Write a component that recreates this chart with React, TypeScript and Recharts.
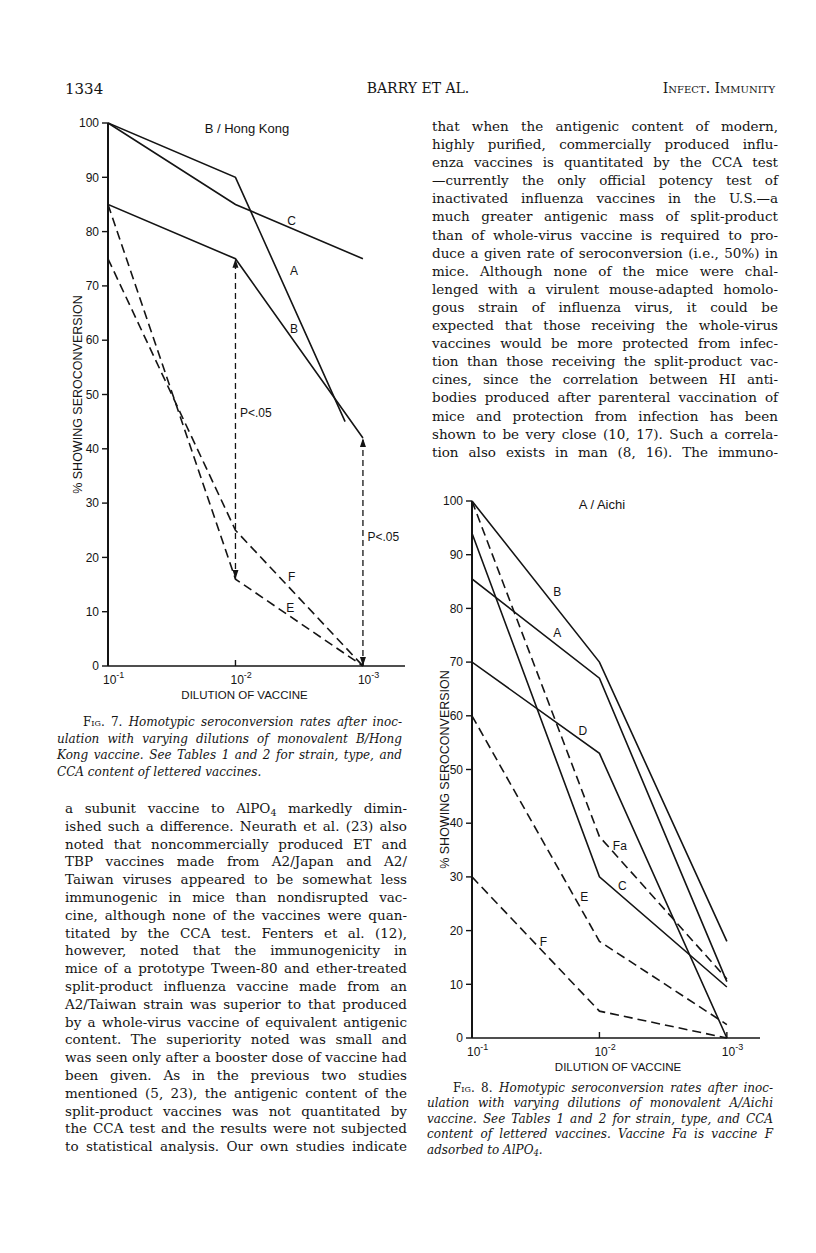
import React, { useLayoutEffect, useRef, useState } from "react";
import { LineChart, Line, XAxis, YAxis, ReferenceDot } from "recharts";

const INK = "#141414";
const SANS = "'Liberation Sans', Arial, sans-serif";
const SERIF = "'DejaVu Serif', 'Liberation Serif', serif";

// dilution of vaccine as the exponent: 1 = 10^-1, 2 = 10^-2, 3 = 10^-3
const dilutions = [1, 2, 3];
const yTicks = [0, 10, 20, 30, 40, 50, 60, 70, 80, 90, 100];

// Fig. 7, B/Hong Kong: % showing seroconversion
const hkA = [100, 90, 45];
const hkAx = [1, 2, 2.86]; // A stops short of 10^-3
const hkB = [85, 75, 42];
const hkC = [100, 85, 75];
const hkE = [85, 16, 0];
const hkF = [75, 25, 0];
const hkArrowAt2 = [16, 75];
const hkArrowAt3 = [0, 42];

// Fig. 8, A/Aichi
const aiA = [85.5, 67, 10.5];
const aiB = [100, 70, 18];
const aiC = [94, 30, 9.5];
const aiD = [70, 53, 0];
const aiE = [60, 18, 2.5];
const aiF = [30, 5, 0];
const aiFa = [100, 37.5, 11];

const pts = (ys: number[], xs: number[] = dilutions) => ys.map((y, i) => ({ x: xs[i], y }));

const hkNotes = [
  { t: "B / Hong Kong", x: 2.09, y: 99, size: 13 },
  { t: "C", x: 2.44, y: 82 },
  { t: "A", x: 2.46, y: 72.7 },
  { t: "B", x: 2.46, y: 62.2 },
  { t: "F", x: 2.44, y: 16.4 },
  { t: "E", x: 2.43, y: 10.7 },
  { t: "P<.05", x: 2.16, y: 46.6 },
  { t: "P<.05", x: 3.16, y: 23.8 },
];

const aiNotes = [
  { t: "A / Aichi", x: 2.02, y: 99.4, size: 13 },
  { t: "B", x: 1.67, y: 83.1 },
  { t: "A", x: 1.67, y: 75.4 },
  { t: "D", x: 1.87, y: 57.2 },
  { t: "Fa", x: 2.16, y: 35.8 },
  { t: "C", x: 2.18, y: 28.3 },
  { t: "E", x: 1.88, y: 26.3 },
  { t: "F", x: 1.56, y: 17.9 },
];

const rightColumn = [
  "that when the antigenic content of modern,",
  "highly purified, commercially produced influ-",
  "enza vaccines is quantitated by the CCA test",
  "\u2014currently the only official potency test of",
  "inactivated influenza vaccines in the U.S.\u2014a",
  "much greater antigenic mass of split-product",
  "than of whole-virus vaccine is required to pro-",
  "duce a given rate of seroconversion (i.e., 50%) in",
  "mice. Although none of the mice were chal-",
  "lenged with a virulent mouse-adapted homolo-",
  "gous strain of influenza virus, it could be",
  "expected that those receiving the whole-virus",
  "vaccines would be more protected from infec-",
  "tion than those receiving the split-product vac-",
  "cines, since the correlation between HI anti-",
  "bodies produced after parenteral vaccination of",
  "mice and protection from infection has been",
  "shown to be very close (10, 17). Such a correla-",
  "tion also exists in man (8, 16). The immuno-",
];

const leftColumn = [
  "a subunit vaccine to AlPO_4 markedly dimin-",
  "ished such a difference. Neurath et al. (23) also",
  "noted that noncommercially produced ET and",
  "TBP vaccines made from A2/Japan and A2/",
  "Taiwan viruses appeared to be somewhat less",
  "immunogenic in mice than nondisrupted vac-",
  "cine, although none of the vaccines were quan-",
  "titated by the CCA test. Fenters et al. (12),",
  "however, noted that the immunogenicity in",
  "mice of a prototype Tween-80 and ether-treated",
  "split-product influenza vaccine made from an",
  "A2/Taiwan strain was superior to that produced",
  "by a whole-virus vaccine of equivalent antigenic",
  "content. The superiority noted was small and",
  "was seen only after a booster dose of vaccine had",
  "been given. As in the previous two studies",
  "mentioned (5, 23), the antigenic content of the",
  "split-product vaccines was not quantitated by",
  "the CCA test and the results were not subjected",
  "to statistical analysis. Our own studies indicate",
];

const fig7Caption = [
  "Homotypic seroconversion rates after inoc-",
  "ulation with varying dilutions of monovalent B/Hong",
  "Kong vaccine. See Tables 1 and 2 for strain, type, and",
  "CCA content of lettered vaccines.",
];

const fig8Caption = [
  "Homotypic seroconversion rates after inoc-",
  "ulation with varying dilutions of monovalent A/Aichi",
  "vaccine. See Tables 1 and 2 for strain, type, and CCA",
  "content of lettered vaccines. Vaccine Fa is vaccine F",
  "adsorbed to AlPO_4.",
];

function ExpTick(props: any) {
  const { x, y, payload } = props;
  return (
    <g>
      {payload.value > 1 && <line x1={x} x2={x} y1={y} y2={y - 6} stroke={INK} strokeWidth={1.4} />}
      <text x={x - 5} y={y + 18} fill={INK} fontSize={12} fontFamily={SANS}>
        10<tspan dy={-6} fontSize={9}>{`-${payload.value}`}</tspan>
      </text>
    </g>
  );
}

function ArrowDot(props: any) {
  const { cx, cy, index } = props;
  if (cx == null || cy == null) return null;
  const d = index === 0 ? -9 : 9; // first point points down, second up
  return <polygon points={`${cx},${cy} ${cx - 3},${cy + d} ${cx + 3},${cy + d}`} fill={INK} />;
}

type Series = { data: { x: number; y: number }[]; dashed?: boolean };

function Panel({ width, height, margin, yWidth, xMax, series, arrows, notes, titleShift }: {
  width: number; height: number; margin: any; yWidth: number; xMax: number;
  series: Series[]; arrows: { x: number; ys: number[] }[];
  notes: { t: string; x: number; y: number; size?: number }[]; titleShift: number;
}) {
  return (
    <LineChart width={width} height={height} margin={margin}>
      <XAxis
        type="number" dataKey="x" domain={[1, xMax]} ticks={dilutions} allowDataOverflow
        axisLine={{ stroke: INK, strokeWidth: 1.6 }} tickLine={false} tickSize={0} tickMargin={0}
        tick={(p: any) => <ExpTick {...p} />} height={40}
        label={(p: any) => {
          const vb = p.viewBox;
          return (
            <text x={vb.x + vb.width / 2 + titleShift} y={vb.y + 33} textAnchor="middle"
              fill={INK} fontSize={11.5} fontFamily={SANS}>DILUTION OF VACCINE</text>
          );
        }}
      />
      <YAxis
        type="number" domain={[0, 100]} ticks={yTicks} interval={0} width={yWidth}
        axisLine={{ stroke: INK, strokeWidth: 2 }} tickLine={{ stroke: INK, strokeWidth: 1.4 }}
        tickSize={6} tickMargin={3} tick={{ fill: INK, fontSize: 12, fontFamily: SANS }}
        label={{ value: "% SHOWING SEROCONVERSION", angle: -90, position: "center", fill: INK, fontSize: 12.5, fontFamily: SANS }}
      />
      {series.map((s, i) => (
        <Line key={i} data={s.data} dataKey="y" type="linear" stroke={INK} strokeWidth={1.6}
          strokeDasharray={s.dashed ? "9 5" : undefined} dot={false} activeDot={false}
          isAnimationActive={false} />
      ))}
      {arrows.map((a, i) => (
        <Line key={`ar${i}`} data={pts(a.ys, [a.x, a.x])} dataKey="y" type="linear" stroke={INK}
          strokeWidth={1.3} strokeDasharray="6 4" activeDot={false} isAnimationActive={false}
          dot={(p: any) => <ArrowDot key={`d${i}-${p.index}`} {...p} />} />
      ))}
      {notes.map((n, i) => (
        <ReferenceDot key={`n${i}`} x={n.x} y={n.y} r={0} fill="none" stroke="none" ifOverflow="visible"
          label={{ value: n.t, position: "center", fill: INK, fontSize: n.size ?? 12, fontFamily: SANS }} />
      ))}
    </LineChart>
  );
}

// "_4" in a line becomes a subscript 4 (shifted without growing the line box)
function withSubs(s: string) {
  const parts = s.split("_4");
  return parts.map((p, i) => (
    <React.Fragment key={i}>
      {p}
      {i < parts.length - 1 && (
        <span style={{ fontSize: "0.7em", position: "relative", top: "0.3em", lineHeight: 0 }}>4</span>
      )}
    </React.Fragment>
  ));
}

// one printed line, stretched (word spacing) or squeezed (letter spacing) to the column width
function FitLine({ width, height, justify, indent = 0, children }: {
  width: number; height: number; justify: boolean; indent?: number; children: React.ReactNode;
}) {
  const ref = useRef<HTMLSpanElement>(null);
  const [adj, setAdj] = useState({ ws: 0, ls: 0 });
  useLayoutEffect(() => {
    const el = ref.current;
    if (!el) return;
    const natural = el.getBoundingClientRect().width;
    const target = width - indent;
    const txt = el.textContent || "";
    const spaces = (txt.match(/ /g) || []).length;
    if (natural > target) setAdj({ ws: 0, ls: (target - natural) / Math.max(1, txt.length - 1) });
    else if (justify && spaces > 0) setAdj({ ws: (target - natural) / spaces, ls: 0 });
  }, [width, indent, justify]);
  return (
    <div style={{ paddingLeft: indent, whiteSpace: "nowrap", height }}>
      <span ref={ref} style={{ display: "inline-block", wordSpacing: adj.ws, letterSpacing: adj.ls }}>
        {children}
      </span>
    </div>
  );
}

function TextBlock({ lines, left, top, width, lineHeight, fontSize, italic, lead, lastLoose }: {
  lines: string[]; left: number; top: number; width: number; lineHeight: number;
  fontSize: number; italic?: boolean; lead?: string; lastLoose?: boolean;
}) {
  return (
    <div style={{ position: "absolute", left, top, width, fontFamily: SERIF, fontSize, color: INK,
      lineHeight: `${lineHeight}px`, fontStyle: italic ? "italic" : "normal" }}>
      {lines.map((l, i) => (
        <FitLine key={i} width={width} height={lineHeight} indent={i === 0 && lead ? 26 : 0}
          justify={!(lastLoose && i === lines.length - 1)}>
          {i === 0 && lead && (
            <span style={{ fontStyle: "normal", fontVariant: "small-caps" }}>{lead} </span>
          )}
          {withSubs(l)}
        </FitLine>
      ))}
    </div>
  );
}

export default function App() {
  return (
    <div style={{ position: "absolute", left: 0, top: 0, width: 816, height: 1253, background: "#fff", color: INK }}>
      <div style={{ position: "absolute", left: 65, top: 80, fontFamily: SERIF, fontSize: 15 }}>1334</div>
      <div style={{ position: "absolute", left: 318, width: 200, top: 80, textAlign: "center", fontFamily: SERIF, fontSize: 14 }}>BARRY ET AL.</div>
      <div style={{ position: "absolute", right: 41, top: 80, fontFamily: SERIF, fontSize: 14, fontVariant: "small-caps" }}>Infect. Immunity</div>

      <div style={{ position: "absolute", left: 48, top: 100 }}>
        <Panel
          width={372} height={620} margin={{ top: 23, right: 15, bottom: 14, left: 0 }} yWidth={60} xMax={3.33}
          titleShift={-12}
          series={[
            { data: pts(hkA, hkAx) }, { data: pts(hkB) }, { data: pts(hkC) },
            { data: pts(hkE), dashed: true }, { data: pts(hkF), dashed: true },
          ]}
          arrows={[{ x: 2, ys: hkArrowAt2 }, { x: 3, ys: hkArrowAt3 }]}
          notes={hkNotes}
        />
      </div>

      <div style={{ position: "absolute", left: 418, top: 480 }}>
        <Panel
          width={352} height={600} margin={{ top: 21, right: 10, bottom: 2, left: 0 }} yWidth={54} xMax={3.26}
          titleShift={2}
          series={[
            { data: pts(aiA) }, { data: pts(aiB) }, { data: pts(aiC) }, { data: pts(aiD) },
            { data: pts(aiE), dashed: true }, { data: pts(aiF), dashed: true }, { data: pts(aiFa), dashed: true },
          ]}
          arrows={[]}
          notes={aiNotes}
        />
      </div>

      <TextBlock lines={rightColumn} left={432} top={117} width={346} lineHeight={18.1} fontSize={13.5} />
      <TextBlock lines={fig7Caption} left={57} top={714} width={345} lineHeight={16.7} fontSize={12} italic lead="Fig. 7." lastLoose />
      <TextBlock lines={leftColumn} left={65} top={800} width={342} lineHeight={17.8} fontSize={13.5} />
      <TextBlock lines={fig8Caption} left={427} top={1081} width={346} lineHeight={15.4} fontSize={12} italic lead="Fig. 8." lastLoose />
    </div>
  );
}
